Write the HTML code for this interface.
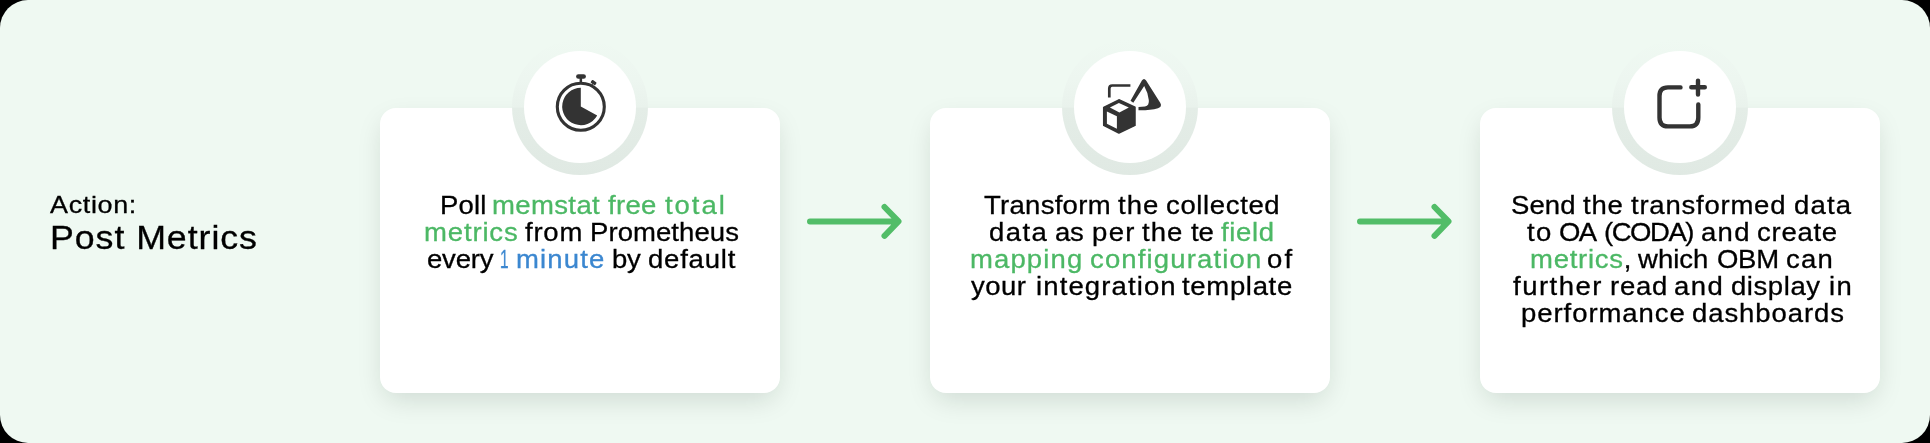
<!DOCTYPE html>
<html><head><meta charset="utf-8">
<style>
html,body{margin:0;padding:0;}
body{width:1930px;height:443px;overflow:hidden;background:#000;position:relative;font-family:"Liberation Sans",sans-serif;}
.frame{position:absolute;left:0;top:0;width:1930px;height:443px;border-radius:28px;background:#eff9f2;overflow:hidden;}
.card{position:absolute;top:108px;width:400px;height:285px;border-radius:16px;background:#fff;box-shadow:0 10px 28px -5px rgba(10,30,20,0.15);}
.ring{position:absolute;top:39px;width:136px;height:136px;border-radius:50%;background:linear-gradient(to bottom,#eff9f2 0%,#edf6f0 30%,#e9f2ec 50%,#e4ede7 51%,#e0e9e3 100%);}
.circ{position:absolute;top:51px;width:112px;height:112px;border-radius:50%;background:#fff;}
.w{position:absolute;white-space:nowrap;font-size:25px;line-height:0;height:0;color:#000;transform:scaleX(1.1);transform-origin:0 0;will-change:transform;-webkit-text-stroke:0.3px;}
.g{color:#4cb865}.b{color:#3b87d0}
.t1{position:absolute;left:50.4px;top:205.2px;font-size:24.5px;line-height:0;color:#000;letter-spacing:0.6px;white-space:nowrap;transform:scaleX(1.1);transform-origin:0 0;will-change:transform;-webkit-text-stroke:0.3px}
.t2{position:absolute;left:49.6px;top:237.7px;font-size:32.5px;line-height:0;color:#000;letter-spacing:0.85px;white-space:nowrap;transform:scaleX(1.1);transform-origin:0 0;will-change:transform;-webkit-text-stroke:0.3px}
svg{position:absolute;overflow:visible}
</style></head><body>
<div class="frame">
<div class="t1">Action:</div>
<div class="t2">Post Metrics</div>

<div class="card" style="left:380px"></div>
<div class="card" style="left:930px"></div>
<div class="card" style="left:1480px"></div>

<div class="ring" style="left:512px"></div>
<div class="ring" style="left:1062px"></div>
<div class="ring" style="left:1612px"></div>
<div class="circ" style="left:524px"></div>
<div class="circ" style="left:1074px"></div>
<div class="circ" style="left:1624px"></div>

<!-- arrows -->
<svg width="1930" height="443" style="left:0;top:0">
 <g stroke="#52bd68" stroke-width="6" stroke-linecap="round" stroke-linejoin="round" fill="none">
  <path d="M810 221.4 H897 M884.5 207 L898.5 221.4 L884.5 235.8"/>
  <path d="M1360 221.4 H1447 M1434.5 207 L1448.5 221.4 L1434.5 235.8"/>
 </g>
 <!-- stopwatch -->
 <g fill="#333">
  <circle cx="580.8" cy="106.7" r="23.5" fill="none" stroke="#333" stroke-width="3.1"/>
  <path d="M580.8 106.4 L580.8 87.7 A18.7 18.7 0 1 0 597.2 115.6 Z"/>
  <rect x="576.1" y="74.2" width="9.8" height="4.5" rx="2.25"/>
  <rect x="579.6" y="77.5" width="2.5" height="5.5"/>
  <rect x="590.9" y="80.9" width="5.4" height="3.4" rx="0.8" transform="rotate(35 593.6 82.6)"/><path d="M591.5 84.5 L593 83.5 L592.5 86 Z"/>
 </g>
 <!-- shapes icon -->
 <g fill="#333">
  <path d="M1109.3 97.6 V88.5 Q1109.3 85.5 1112.3 85.5 H1130.4" fill="none" stroke="#333" stroke-width="2.7" stroke-linecap="butt"/>
  <path d="M1118.9 99.8 L1135 107.3 V125.4 L1118.9 133 L1103.7 125.4 V107.3 Z" stroke="#333" stroke-width="1.5" stroke-linejoin="round"/>
  <path d="M1118.9 103 L1128.8 107.4 L1119.4 112.4 L1109.9 107.4 Z" fill="#fff"/>
  <path d="M1106.9 111.4 L1116.9 116.3 V128.8 L1106.9 123.8 Z" fill="#fff"/>
  
  <path d="M1141.9 80.6 Q1144 77.6 1146.1 80.6 L1160.2 102.8 Q1162.5 106.8 1158 108.3 Q1150 110.5 1138.5 110.3 L1138.5 106.9 L1145 106.6 Q1149.5 105.5 1148.8 100 Q1147.8 92 1144.2 85.9 L1133.3 102.8 L1130.5 100.8 Z"/>
 </g>
 <!-- add icon -->
 <g fill="none" stroke="#333" stroke-width="4.4" stroke-linecap="round" stroke-linejoin="round">
  <path d="M1680.5 87.4 H1668 Q1659.5 87.4 1659.5 96 V117.5 Q1659.5 126.4 1668 126.4 H1689.8 Q1698.3 126.4 1698.3 117.5 V104.5"/>
  <path d="M1691.3 87.2 H1704.8 M1698 80.6 V94.6"/>
 </g>
</svg>

<div class="w" style="left:440.42px;top:205.34px;letter-spacing:0.148px;">Poll</div>
<div class="w g" style="left:492.30px;top:205.34px;letter-spacing:0.342px;">memstat</div>
<div class="w g" style="left:608.42px;top:205.34px;letter-spacing:0.270px;">free</div>
<div class="w g" style="left:664.62px;top:205.34px;letter-spacing:1.777px;">total</div>
<div class="w g" style="left:424.26px;top:232.34px;letter-spacing:0.770px;">metrics</div>
<div class="w" style="left:525.22px;top:232.34px;letter-spacing:0.700px;">from</div>
<div class="w" style="left:590.34px;top:232.34px;letter-spacing:0.064px;">Prometheus</div>
<div class="w" style="left:427.26px;top:259.34px;letter-spacing:-0.168px;">every</div>
<div class="w b" style="left:500.38px;top:259.34px;letter-spacing:0.700px;transform:scaleX(0.62);">1</div>
<div class="w b" style="left:516.30px;top:259.34px;letter-spacing:1.053px;">minute</div>
<div class="w" style="left:611.62px;top:259.34px;letter-spacing:-0.282px;">by</div>
<div class="w" style="left:647.50px;top:259.34px;letter-spacing:0.718px;">default</div>
<div class="w" style="left:984.22px;top:205.34px;letter-spacing:0.257px;">Transform</div>
<div class="w" style="left:1118.38px;top:205.34px;letter-spacing:0.991px;">the</div>
<div class="w" style="left:1166.26px;top:205.34px;letter-spacing:0.580px;">collected</div>
<div class="w" style="left:989.30px;top:232.34px;letter-spacing:1.306px;">data</div>
<div class="w" style="left:1055.38px;top:232.34px;letter-spacing:-0.209px;">as</div>
<div class="w" style="left:1091.66px;top:232.34px;letter-spacing:1.255px;">per</div>
<div class="w" style="left:1142.34px;top:232.34px;letter-spacing:0.991px;">the</div>
<div class="w" style="left:1191.30px;top:232.34px;letter-spacing:-0.155px;">te</div>
<div class="w g" style="left:1221.42px;top:232.34px;letter-spacing:0.568px;">field</div>
<div class="w g" style="left:970.42px;top:259.34px;letter-spacing:1.021px;">mapping</div>
<div class="w g" style="left:1090.26px;top:259.34px;letter-spacing:1.047px;">configuration</div>
<div class="w" style="left:1267.42px;top:259.34px;letter-spacing:2.082px;">of</div>
<div class="w" style="left:971.34px;top:286.34px;letter-spacing:0.397px;">your</div>
<div class="w" style="left:1035.50px;top:286.34px;letter-spacing:1.020px;">integration</div>
<div class="w" style="left:1182.42px;top:286.34px;letter-spacing:0.617px;">template</div>
<div class="w" style="left:1511.26px;top:205.34px;letter-spacing:0.076px;">Send</div>
<div class="w" style="left:1583.38px;top:205.34px;letter-spacing:0.700px;">the</div>
<div class="w" style="left:1631.46px;top:205.34px;letter-spacing:0.700px;">transformed</div>
<div class="w" style="left:1794.18px;top:205.34px;letter-spacing:1.094px;">data</div>
<div class="w" style="left:1527.26px;top:232.34px;letter-spacing:1.282px;">to</div>
<div class="w" style="left:1559.30px;top:232.34px;letter-spacing:-1.555px;">OA</div>
<div class="w" style="left:1604.18px;top:232.34px;letter-spacing:-1.333px;">(CODA)</div>
<div class="w" style="left:1701.18px;top:232.34px;letter-spacing:1.155px;">and</div>
<div class="w" style="left:1757.42px;top:232.34px;letter-spacing:0.678px;">create</div>
<div class="w" style="left:1530.34px;top:259.34px;letter-spacing:0.661px;"><span class="g">metrics</span>,</div>
<div class="w" style="left:1638.22px;top:259.34px;letter-spacing:0.018px;">which</div>
<div class="w" style="left:1716.50px;top:259.34px;letter-spacing:-0.264px;">OBM</div>
<div class="w" style="left:1786.46px;top:259.34px;letter-spacing:1.127px;">can</div>
<div class="w" style="left:1513.22px;top:286.34px;letter-spacing:1.370px;">further</div>
<div class="w" style="left:1609.62px;top:286.34px;letter-spacing:0.712px;">read</div>
<div class="w" style="left:1674.38px;top:286.34px;letter-spacing:1.345px;">and</div>
<div class="w" style="left:1731.14px;top:286.34px;letter-spacing:0.521px;">display</div>
<div class="w" style="left:1828.54px;top:286.34px;letter-spacing:1.264px;">in</div>
<div class="w" style="left:1520.66px;top:313.34px;letter-spacing:0.855px;">performance</div>
<div class="w" style="left:1691.50px;top:313.34px;letter-spacing:0.837px;">dashboards</div>
</div>
</body></html>
